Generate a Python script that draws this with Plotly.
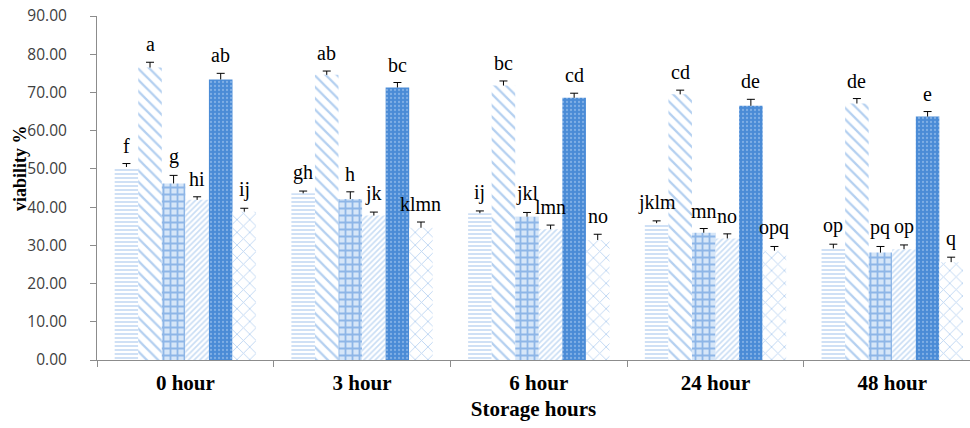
import plotly.graph_objects as go

categories = ["0 hour", "3 hour", "6 hour", "24 hour", "48 hour"]

# six treatments, viability % per storage time
s1 = [50.5, 43.6, 38.4, 35.8, 29.2]
s2 = [76.5, 74.6, 71.8, 69.5, 67.1]
s3 = [46.2, 42.1, 37.5, 33.3, 28.1]
s4 = [41.9, 37.8, 34.2, 31.8, 29.0]
s5 = [73.4, 71.3, 68.6, 66.5, 63.7]
s6 = [38.8, 34.6, 31.4, 28.6, 25.6]

e1 = [0.9, 0.6, 0.6, 0.6, 1.1]
e2 = [1.4, 1.0, 1.2, 1.1, 1.3]
e3 = [2.1, 1.9, 1.1, 1.1, 1.6]
e4 = [0.8, 0.9, 1.1, 1.2, 1.1]
e5 = [1.6, 1.3, 1.2, 1.7, 1.3]
e6 = [0.9, 1.5, 1.5, 1.1, 1.3]

g1 = ["f", "gh", "ij", "jklm", "op"]
g2 = ["a", "ab", "bc", "cd", "de"]
g3 = ["g", "h", "jkl", "mn", "pq"]
g4 = ["hi", "jk", "lmn", "no", "op"]
g5 = ["ab", "bc", "cd", "de", "e"]
g6 = ["ij", "klmn", "no", "opq", "q"]

values = [s1, s2, s3, s4, s5, s6]
errors = [e1, e2, e3, e4, e5, e6]
letters = [g1, g2, g3, g4, g5, g6]

styles = [
    dict(shape="-", fg="#86b3e7", bg="#ffffff", size=4, solidity=0.4),
    dict(shape="\\", fg="#6aa1e1", bg="#ffffff", size=8, solidity=0.28),
    dict(shape="+", fg="#4585d6", bg="#d6e6f8", size=7, solidity=0.45),
    dict(shape="/", fg="#93bcea", bg="#ffffff", size=4, solidity=0.42),
    dict(shape=".", fg="#b4d2f3", bg="#4a8bd6", size=4, solidity=0.25),
    dict(shape="x", fg="#7faee6", bg="#ffffff", size=9, solidity=0.2),
]

fig = go.Figure()
for i, (vals, st) in enumerate(zip(values, styles)):
    fig.add_trace(go.Bar(
        x=categories, y=vals, name=f"T{i + 1}",
        marker=dict(
            color=st["bg"], line=dict(width=0),
            pattern=dict(shape=st["shape"], fgcolor=st["fg"], bgcolor=st["bg"],
                         size=st["size"], solidity=st["solidity"], fillmode="overlay"),
        ),
        showlegend=False,
    ))

# upward-only error bars and significance letters for every bar
n = len(values)
group_w = 0.8
bar_w = group_w / n
for i in range(n):
    for j, cat in enumerate(categories):
        xpos = j - group_w / 2 + bar_w * (i + 0.5)
        top = values[i][j] + errors[i][j]
        fig.add_shape(type="line", xref="x", yref="y",
                      x0=xpos, x1=xpos, y0=values[i][j], y1=top,
                      line=dict(color="#000000", width=1))
        fig.add_shape(type="line", xref="x", yref="y", xsizemode="pixel",
                      xanchor=xpos, x0=-4, x1=4, y0=top, y1=top,
                      line=dict(color="#000000", width=1))
        fig.add_annotation(
            x=xpos, y=top, xref="x", yref="y",
            text=letters[i][j], showarrow=False, yanchor="bottom", yshift=5,
            font=dict(family="Liberation Serif", size=20, color="#000000"),
        )

fig.add_annotation(
    text="<b>viability %</b>", textangle=-90, xref="paper", yref="paper",
    x=0, y=0.558, xshift=-77, xanchor="center", yanchor="middle", showarrow=False,
    font=dict(family="Liberation Serif", size=18, color="#000000"),
)

fig.update_layout(
    width=970, height=428,
    margin=dict(l=97, r=0, t=16, b=68),
    paper_bgcolor="#ffffff", plot_bgcolor="#ffffff",
    barmode="group", bargap=0.2, bargroupgap=0,
    xaxis=dict(
        type="category", range=[-0.5, 4.44],
        showline=True, linecolor="#8c8c8c", linewidth=1,
        ticks="outside", tickson="boundaries", ticklen=6, tickcolor="#8c8c8c",
        ticklabelstandoff=4,
        tickfont=dict(family="Liberation Serif", size=21, color="#000000"),
        tickprefix="<b>", ticksuffix="</b>",
        title=dict(text="<b>Storage hours</b>", standoff=7,
                   font=dict(family="Liberation Serif", size=21, color="#000000")),
        showgrid=False,
    ),
    yaxis=dict(
        range=[0, 90], dtick=10, tickformat=".2f",
        showline=True, linecolor="#8c8c8c", linewidth=1,
        ticks="outside", ticklen=6, tickcolor="#8c8c8c",
        ticklabelstandoff=20,
        tickfont=dict(family="Open Sans", size=15.5, color="#404040"),
        showgrid=False, zeroline=False,
    ),
)

fig.write_html("out.html")
